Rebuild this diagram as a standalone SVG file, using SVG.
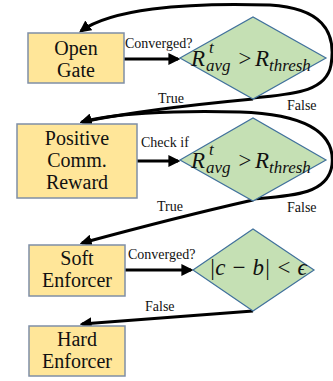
<svg xmlns="http://www.w3.org/2000/svg" width="333" height="381" viewBox="0 0 333 381">
<defs>
<marker id="ah" viewBox="0 0 10 10" refX="8" refY="5" markerWidth="4" markerHeight="4" orient="auto" markerUnits="strokeWidth">
<path d="M0,0 L10,5 L0,10 z" fill="#000"/>
</marker>
<style>
.box{fill:#FFE699;stroke:#7F8FA6;stroke-width:1.5}
.dia{fill:#C5E0B4;stroke:#41719C;stroke-width:1.2}
.bt{font-family:"Liberation Serif","DejaVu Serif",serif;font-size:20px;fill:#111;text-anchor:middle}
.lb{font-family:"Liberation Serif","DejaVu Serif",serif;font-size:14px;fill:#111}
.mt{font-family:"Liberation Serif","DejaVu Serif",serif;font-style:italic;font-size:23px;fill:#111}
.ms{font-family:"Liberation Serif","DejaVu Serif",serif;font-style:italic;font-size:17px;fill:#111}
.edge{fill:none;stroke:#000;stroke-width:3;marker-end:url(#ah)}
</style>
</defs>
<rect width="333" height="381" fill="#fff"/>
<g id="connectors">
<path class="edge" d="M124,59 L178,59"/>
<path class="edge" d="M137,161 L178,161"/>
<path class="edge" d="M125,270 L191,270"/>
<path class="edge" d="M253,98 C290,94 326,93 331,65 C337,30 320,8 270,5 C180,2 110,10 81,31"/>
<path class="edge" d="M253,99 C200,104 130,112 82,122"/>
<path class="edge" d="M253,199 C290,196 328,195 332,165 C336,130 300,114 240,112 C170,110 110,114 82,122"/>
<path class="edge" d="M253,200 C200,212 130,230 82,243"/>
<path class="edge" d="M253,311 C200,315 130,320 82,324"/>
</g>
<g id="open-gate">
<rect class="box" x="28" y="33" width="96" height="50"/>
<text class="bt" x="76" y="55">Open</text>
<text class="bt" x="76" y="77">Gate</text>
</g>
<g id="cond1">
<polygon class="dia" points="180,58 253,17 326,58 253,99"/>
<text class="mt" x="191" y="66">R</text>
<text class="ms" x="209" y="53">t</text>
<text class="ms" x="206" y="71">avg</text>
<text class="mt" x="237" y="66">&gt;</text>
<text class="mt" x="255" y="66">R</text>
<text class="ms" x="269" y="71">thresh</text>
</g>
<g id="positive-comm-reward">
<rect class="box" x="17" y="124" width="120" height="74"/>
<text class="bt" x="77" y="145">Positive</text>
<text class="bt" x="77" y="167">Comm.</text>
<text class="bt" x="77" y="189">Reward</text>
</g>
<g id="cond2">
<polygon class="dia" points="180,160 253,118 326,160 253,201"/>
<text class="mt" x="191" y="168">R</text>
<text class="ms" x="209" y="155">t</text>
<text class="ms" x="206" y="173">avg</text>
<text class="mt" x="237" y="168">&gt;</text>
<text class="mt" x="255" y="168">R</text>
<text class="ms" x="269" y="173">thresh</text>
</g>
<g id="soft-enforcer">
<rect class="box" x="29" y="245" width="96" height="51"/>
<text class="bt" x="77" y="265">Soft</text>
<text class="bt" x="77" y="287">Enforcer</text>
</g>
<g id="cond3">
<polygon class="dia" points="193,270 253,229 314,270 253,311"/>
<text class="mt" x="209" y="275">|c − b| &lt; ϵ</text>
</g>
<g id="hard-enforcer">
<rect class="box" x="29" y="326" width="96" height="50"/>
<text class="bt" x="77" y="346">Hard</text>
<text class="bt" x="77" y="368">Enforcer</text>
</g>
<g id="labels">
<text class="lb" x="125" y="48">Converged?</text>
<text class="lb" x="141" y="147">Check if</text>
<text class="lb" x="158" y="103">True</text>
<text class="lb" x="287" y="110">False</text>
<text class="lb" x="157" y="211">True</text>
<text class="lb" x="287" y="212">False</text>
<text class="lb" x="128" y="259">Converged?</text>
<text class="lb" x="145" y="311">False</text>
</g>
</svg>
